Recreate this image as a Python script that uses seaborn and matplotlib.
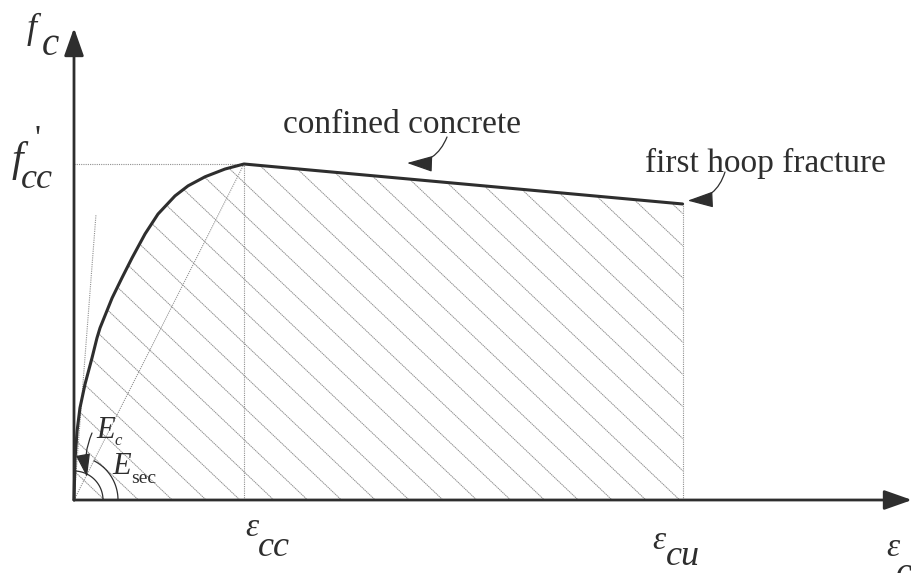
import numpy as np
import matplotlib
matplotlib.use("Agg")
import matplotlib.pyplot as plt
import seaborn as sns

# strain is eps / eps_cc, stress is f / f'cc
strain_rise = [0.0, 0.006, 0.018, 0.035, 0.065, 0.106, 0.135, 0.153, 0.224, 0.282,
               0.341, 0.418, 0.494, 0.594, 0.671, 0.771, 0.888, 1.0]
stress_rise = [0.0, 0.120, 0.205, 0.274, 0.345, 0.423, 0.482, 0.512, 0.601, 0.661,
               0.720, 0.792, 0.851, 0.905, 0.935, 0.962, 0.985, 1.0]
eps_cc = 1.0
eps_cu = 3.58
f_cc = 1.0
f_cu = 0.881
tangent_end = (0.129, 0.848)

strain = strain_rise + [eps_cu]
stress = stress_rise + [f_cu]

# layout: origin at pixel (74, 500), 170 px per strain unit, 336 px per stress unit
W, H = 912, 573
X0, Y0, SX, SY = 74, 500, 170.0, 336.0


def px(x, y):
    return (x - X0) / SX, (Y0 - y) / SY


INK = "#2e2e2e"
GRID = "#909090"

sns.set_style("white")
plt.rcParams["font.family"] = ["Liberation Serif", "DejaVu Serif"]

fig = plt.figure(figsize=(W / 100, H / 100), dpi=100)
ax = fig.add_axes([0, 0, 1, 1])
ax.set_xlim(px(0, 0)[0], px(W, 0)[0])
ax.set_ylim(px(0, H)[1], px(0, 0)[1])
ax.set_axis_off()

# hatched area under the curve
poly = plt.Polygon(np.column_stack([strain + [eps_cu, 0.0], stress + [0.0, 0.0]]),
                   closed=True, fc="none", ec="none")
ax.add_patch(poly)
slope = 0.95 * SX / SY
spacing = 0.199
start = 0.976 - 5 * spacing
for k in range(0, 32):
    x0 = start + k * spacing
    ln, = ax.plot([x0 - 4, x0], [slope * 4, 0], color=GRID, lw=0.7, ls=(0, (1.5, 0.6)))
    ln.set_clip_path(poly)

# guide lines
dots = (0, (1, 1))
ax.plot([0, eps_cc], [f_cc, f_cc], color=GRID, lw=0.8, ls=dots)
ax.plot([eps_cc, eps_cc], [0, f_cc], color=GRID, lw=0.8, ls=dots)
ax.plot([eps_cu, eps_cu], [0, f_cu], color=GRID, lw=0.8, ls=dots)
ax.plot([0, eps_cc], [0, f_cc], color=GRID, lw=0.8, ls=dots)
ax.plot([0, tangent_end[0]], [0, tangent_end[1]], color=GRID, lw=0.8, ls=dots)

# stress-strain curve
sns.lineplot(x=strain, y=stress, sort=False, ax=ax, color=INK, lw=2.2)

# axes with arrows
head = "-|>,head_length=0.85,head_width=0.3"
ax.annotate("", xy=(0, px(0, 28)[1]), xytext=(0, 0),
            arrowprops=dict(arrowstyle=head, color=INK, lw=2, shrinkA=0, shrinkB=0,
                            mutation_scale=20))
ax.annotate("", xy=(px(W, 0)[0], 0), xytext=(0, 0),
            arrowprops=dict(arrowstyle=head, color=INK, lw=2, shrinkA=0, shrinkB=0,
                            mutation_scale=20))

# angle arcs at the origin
for r, a in [(29, 86), (44, 63)]:
    t = np.radians(np.linspace(0, a, 40))
    ax.plot(r * np.cos(t) / SX, r * np.sin(t) / SY, color=INK, lw=0.9)

small_head = "-|>,head_length=0.8,head_width=0.25"
ax.annotate("", xy=px(87, 477), xytext=px(92, 433),
            arrowprops=dict(arrowstyle=small_head, color=INK, lw=0.9, shrinkA=0, shrinkB=0,
                            mutation_scale=18, connectionstyle="arc3,rad=0.15"))
ax.annotate("", xy=px(407, 163), xytext=px(447, 137),
            arrowprops=dict(arrowstyle=small_head, color=INK, lw=0.9, shrinkA=0, shrinkB=0,
                            mutation_scale=20, connectionstyle="arc3,rad=-0.35"))
ax.annotate("", xy=(eps_cu + 0.03, f_cu + 0.01), xytext=px(725, 172),
            arrowprops=dict(arrowstyle=small_head, color=INK, lw=0.9, shrinkA=0, shrinkB=0,
                            mutation_scale=20, connectionstyle="arc3,rad=-0.35"))


def label(x, y, s, size, italic=True):
    ax.text(*px(x, y), s, fontsize=size, color=INK, va="baseline", ha="left",
            fontstyle="italic" if italic else "normal")


label(283, 133, "confined concrete", 24, italic=False)
label(645, 172, "first hoop fracture", 24, italic=False)

label(27, 38, "f", 26)
label(42, 55, "c", 28)
label(12, 171, "f", 30)
label(35, 148, "'", 24, italic=False)
label(21, 188, "cc", 26)

label(245, 536, "ε", 24)
label(258, 556, "cc", 26)
label(652, 549, "ε", 24)
label(666, 565, "cu", 26)
label(886, 556, "ε", 24)
label(896, 582, "c", 26)

label(96, 438, "E", 22)
label(114, 445, "c", 12)
label(112, 474, "E", 22)
label(131, 483, "sec", 14, italic=False)

fig.savefig("out.png", dpi=100)
